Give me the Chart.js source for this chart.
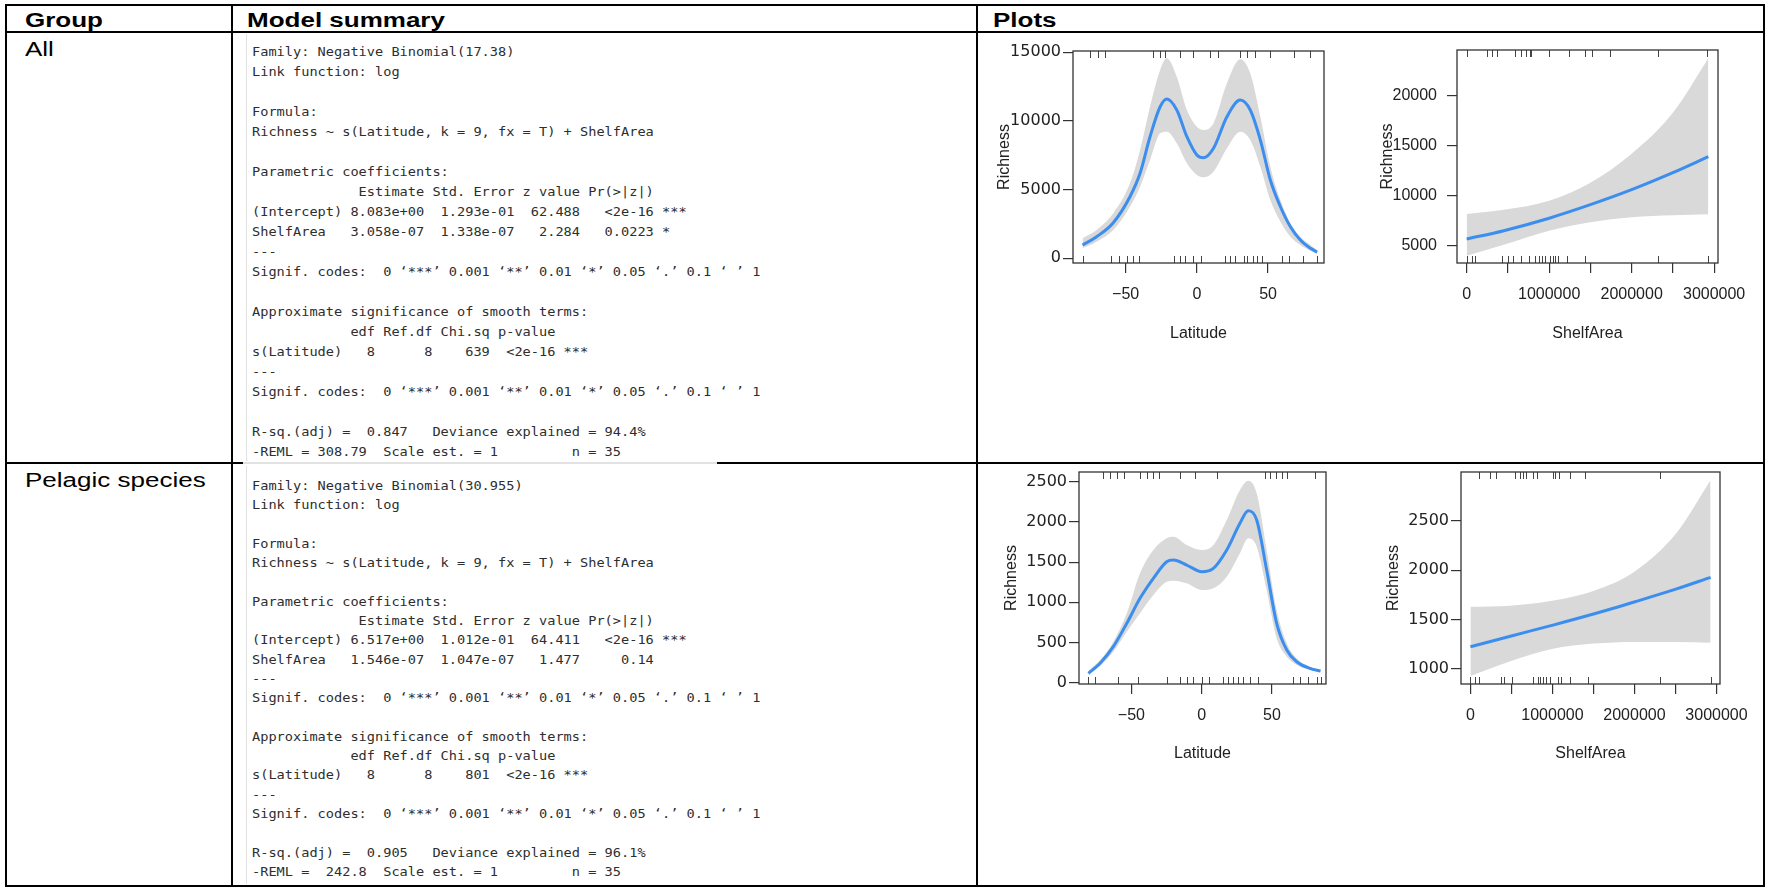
<!DOCTYPE html>
<html><head><meta charset="utf-8">
<script src="https://cdn.jsdelivr.net/npm/chart.js@4"></script>
<style>
html,body{margin:0;padding:0;background:#fff;}
#page{position:relative;width:1766px;height:888px;overflow:hidden;background:#fff;}
.ln{position:absolute;background:#000;}
.lg{position:absolute;background:#e2e2e2;}
.hd{position:absolute;font:bold 20px "Liberation Sans",Arial,sans-serif;line-height:20px;white-space:nowrap;transform-origin:0 0;transform:scaleX(1.3);color:#000;}
.rl{position:absolute;font:20px "Liberation Sans",Arial,sans-serif;line-height:20px;white-space:nowrap;transform-origin:0 0;transform:scaleX(1.3);color:#000;}
pre.sum{position:absolute;margin:0;font-family:"DejaVu Sans Mono",monospace;font-size:12px;color:#2e2e2e;transform-origin:0 0;transform:scaleX(1.135);}
canvas{position:absolute;}
</style></head>
<body><div id="page">
<div class="ln" style="left:5px;top:4px;width:1760px;height:2px"></div>
<div class="ln" style="left:5px;top:31px;width:1760px;height:2px"></div>
<div class="ln" style="left:5px;top:462px;width:1760px;height:2px"></div>
<div class="ln" style="left:5px;top:885px;width:1760px;height:2px"></div>
<div class="ln" style="left:5px;top:4px;width:2px;height:883px"></div>
<div class="ln" style="left:231px;top:4px;width:2px;height:883px"></div>
<div class="ln" style="left:976px;top:4px;width:2px;height:883px"></div>
<div class="ln" style="left:1763px;top:4px;width:2px;height:883px"></div>
<div class="lg" style="left:246px;top:34px;width:1px;height:427px"></div>
<div class="lg" style="left:246px;top:466px;width:1px;height:418px"></div>
<div class="lg" style="left:243px;top:462px;width:474px;height:2px"></div>
<div class="hd" style="left:25px;top:10px">Group</div>
<div class="hd" style="left:247px;top:10px">Model summary</div>
<div class="hd" style="left:993px;top:10px">Plots</div>
<div class="rl" style="left:25px;top:39px">All</div>
<div class="rl" style="left:25px;top:470px">Pelagic species</div>
<pre class="sum" id="sum1" style="left:252px;top:42px;line-height:20px"></pre>
<pre class="sum" id="sum2" style="left:252px;top:477px;line-height:19.3px"></pre>
</div>
<script>
// ---------- summary texts ----------
const summaryAll = [
"Family: Negative Binomial(17.38)",
"Link function: log",
"",
"Formula:",
"Richness ~ s(Latitude, k = 9, fx = T) + ShelfArea",
"",
"Parametric coefficients:",
"             Estimate Std. Error z value Pr(>|z|)",
"(Intercept) 8.083e+00  1.293e-01  62.488   <2e-16 ***",
"ShelfArea   3.058e-07  1.338e-07   2.284   0.0223 *",
"---",
"Signif. codes:  0 \u2018***\u2019 0.001 \u2018**\u2019 0.01 \u2018*\u2019 0.05 \u2018.\u2019 0.1 \u2018 \u2019 1",
"",
"Approximate significance of smooth terms:",
"            edf Ref.df Chi.sq p-value",
"s(Latitude)   8      8    639  <2e-16 ***",
"---",
"Signif. codes:  0 \u2018***\u2019 0.001 \u2018**\u2019 0.01 \u2018*\u2019 0.05 \u2018.\u2019 0.1 \u2018 \u2019 1",
"",
"R-sq.(adj) =  0.847   Deviance explained = 94.4%",
"-REML = 308.79  Scale est. = 1         n = 35"];
const summaryPelagic = [
"Family: Negative Binomial(30.955)",
"Link function: log",
"",
"Formula:",
"Richness ~ s(Latitude, k = 9, fx = T) + ShelfArea",
"",
"Parametric coefficients:",
"             Estimate Std. Error z value Pr(>|z|)",
"(Intercept) 6.517e+00  1.012e-01  64.411   <2e-16 ***",
"ShelfArea   1.546e-07  1.047e-07   1.477     0.14",
"---",
"Signif. codes:  0 \u2018***\u2019 0.001 \u2018**\u2019 0.01 \u2018*\u2019 0.05 \u2018.\u2019 0.1 \u2018 \u2019 1",
"",
"Approximate significance of smooth terms:",
"            edf Ref.df Chi.sq p-value",
"s(Latitude)   8      8    801  <2e-16 ***",
"---",
"Signif. codes:  0 \u2018***\u2019 0.001 \u2018**\u2019 0.01 \u2018*\u2019 0.05 \u2018.\u2019 0.1 \u2018 \u2019 1",
"",
"R-sq.(adj) =  0.905   Deviance explained = 96.1%",
"-REML =  242.8  Scale est. = 1         n = 35"];
document.getElementById('sum1').textContent = summaryAll.join('\n');
document.getElementById('sum2').textContent = summaryPelagic.join('\n');

// ---------- chart data ----------
// All species: Latitude smooth
const lat1   = [-80.3,-70.4,-58.7,-47,-39.9,-32.9,-25.8,-21.1,-14.1,-7,0,4.7,11.7,21.1,30.5,37.5,44.6,51.6,58.7,65.7,72.7,79.8,84.5];
const fit1   = [968,1573,2592,4485,6188,8852,11036,11597,10796,8852,7520,7324,8008,10308,11524,10796,8611,5700,3756,2300,1332,728,450];
const upper1 = [1456,2060,3276,5460,7884,11036,13708,14560,13220,10796,9580,9340,9828,12740,14487,13468,10308,6668,4244,2548,1573,968,580];
const lower1 = [728,1208,2060,3756,5212,7156,9100,9216,8372,6916,6064,5897,6304,8008,9216,8611,6668,4244,2665,1573,968,553,330];
const rugTop1 = [-75.1,-69.3,-64.6,-30.5,-25.8,-22.3,-11.8,-2.4,9.4,14.5,30,35.2,41.1,51.6,68,79.8];
const rugBot1 = [-80.3,-60.4,-54.5,-49.3,-44.6,-40.4,-16,-11.8,-8.2,-2.4,2.8,19.9,23.5,27,32.9,35.2,39.4,42.2,45.8,59.9,64.5,74.6,84.5];
const xTicks1 = [-50,0,50];
const yTicks1 = [0,5000,10000,15000];

// All species: ShelfArea effect
const sa2    = [0,450000,1000000,1500000,2000000,2500000,2930000];
const fit2   = [5670,6500,7750,9100,10600,12300,13900];
const upper2 = [8170,8600,9500,11300,14200,18300,23740];
const lower2 = [4000,5100,6500,7350,7850,8050,8150];
const rugTop2 = [8000,242000,311000,371000,592000,661000,725000,762000,782000,1004000,1242000,1439000,1520000,1733000,2318000,2911000];
const rugBot2 = [8000,69000,101000,432000,500000,565000,653000,754000,834000,875000,915000,955000,1016000,1048000,1076000,1104000,1217000,1439000,2314000,2923000];
const xTicksSA = [0,500000,1000000,1500000,2000000,2500000,3000000];
const yTicks2 = [5000,10000,15000,20000];

// Pelagic species: Latitude smooth
const lat3   = [-80.6,-72.3,-62.9,-53.3,-43.9,-34.4,-24.9,-20.2,-10.7,0,8.3,17.8,27.2,33.1,39.1,46.2,53.3,60.5,67.6,77,84.5];
const fit3   = [117,241,448,739,1050,1299,1505,1526,1464,1381,1423,1651,1983,2140,2024,1402,739,407,261,179,145];
const upper3 = [149,282,510,863,1361,1651,1796,1816,1713,1651,1713,2024,2397,2513,2356,1651,904,490,303,199,156];
const lower3 = [96,208,386,634,863,1091,1256,1269,1236,1153,1174,1319,1610,1796,1692,1153,552,323,220,158,134];
const rugTop3 = [-70,-65.2,-60.5,-55,-43.9,-39.1,-34.4,-30.1,-15.4,-4.8,10.7,45,48.6,52.8,56.9,60.5,80.6];
const rugBot3 = [-80.6,-75.9,-59.7,-45.1,-24.9,-15.4,-10.7,-6,0,5.2,15.4,18.9,22.5,26,29.6,34.4,40.3,65.2,69.9,75.8,81.8,84.5];
const yTicks3 = [0,500,1000,1500,2000,2500];

// Pelagic species: ShelfArea effect
const sa4    = [0,487000,993000,1500000,2007000,2514000,2928000];
const fit4   = [1223,1330,1440,1555,1680,1810,1927];
const upper4 = [1629,1640,1690,1790,1990,2380,2913];
const lower4 = [926,1075,1200,1255,1272,1272,1264];
const rugTop4 = [101000,235000,316000,547000,600000,641000,681000,758000,811000,1006000,1034000,1075000,1217000,1399000,2311000];
const rugBot4 = [0,61000,101000,377000,405000,507000,758000,823000,852000,884000,921000,973000,1062000,1103000,1208000,1439000,2311000,2928000];
const yTicks4 = [1000,1500,2000,2500];

// ---------- drawing ----------
const BLUE = '#3b8eed', BAND = '#d9d9d9', INK = '#222';
const pts = (xs, ys) => xs.map((x, i) => ({x: x, y: ys[i]}));
const page = document.getElementById('page');

const framePlugin = {
  id: 'frame',
  afterDatasetsDraw(chart, args, opts) {
    const ctx = chart.ctx, ca = chart.chartArea, xs = chart.scales.x;
    ctx.save();
    ctx.strokeStyle = '#444'; ctx.lineWidth = 1;
    ctx.beginPath();
    (opts.top || []).forEach(v => { const px = Math.round(xs.getPixelForValue(v)) + 0.5; ctx.moveTo(px, ca.top); ctx.lineTo(px, ca.top + 7); });
    (opts.bottom || []).forEach(v => { const px = Math.round(xs.getPixelForValue(v)) + 0.5; ctx.moveTo(px, ca.bottom - 7); ctx.lineTo(px, ca.bottom); });
    ctx.stroke();
    ctx.strokeStyle = '#333'; ctx.lineWidth = 1.3;
    ctx.strokeRect(ca.left, ca.top, ca.right - ca.left, ca.bottom - ca.top);
    ctx.restore();
  }
};

function numLabel(v) { return v < 0 ? '\u2212' + Math.abs(v) : String(v); }

function makeChart(c) {
  const padT = 14, padR = 40;
  const W = c.box.r - c.box.l, H = c.box.b - c.box.t;
  const cw = c.wy + W + padR, ch = padT + H + c.hx;
  const cv = document.createElement('canvas');
  cv.width = cw; cv.height = ch;
  cv.style.left = (c.box.l - c.wy) + 'px';
  cv.style.top = (c.box.t - padT) + 'px';
  cv.style.width = cw + 'px'; cv.style.height = ch + 'px';
  page.appendChild(cv);
  const gridOpts = {drawOnChartArea: false, drawTicks: true, tickLength: 10, color: '#333', lineWidth: 1.2};
  new Chart(cv, {
    type: 'line',
    data: {datasets: [
      {data: pts(c.x, c.fit), borderColor: BLUE, borderWidth: 3, pointRadius: 0, fill: false, cubicInterpolationMode: 'monotone'},
      {data: pts(c.x, c.upper), borderWidth: 0, borderColor: 'rgba(0,0,0,0)', pointRadius: 0, fill: '+1', backgroundColor: BAND, cubicInterpolationMode: 'monotone'},
      {data: pts(c.x, c.lower), borderWidth: 0, borderColor: 'rgba(0,0,0,0)', pointRadius: 0, fill: false, cubicInterpolationMode: 'monotone'}
    ]},
    options: {
      responsive: false, animation: false, devicePixelRatio: 1,
      layout: {padding: {top: padT, right: padR, left: 0, bottom: 0}},
      plugins: {legend: {display: false}, tooltip: {enabled: false}, frame: {top: c.rugTop, bottom: c.rugBot}},
      scales: {
        x: {
          type: 'linear', min: c.xr[0], max: c.xr[1],
          afterBuildTicks: s => { s.ticks = c.xt.map(v => ({value: v})); },
          afterFit: s => { s.height = c.hx; s.paddingLeft = 0; s.paddingRight = 0; },
          grid: gridOpts, border: {display: false},
          ticks: {autoSkip: false, maxRotation: 0, minRotation: 0, padding: 12, color: INK,
                  font: {family: '"Liberation Sans", Arial, sans-serif', size: 16},
                  callback: c.xlab},
          title: {display: true, text: c.xtitle, color: INK, padding: 0,
                  font: {family: '"Liberation Sans", Arial, sans-serif', size: 16}}
        },
        y: {
          type: 'linear', min: c.yr[0], max: c.yr[1],
          afterBuildTicks: s => { s.ticks = c.yt.map(v => ({value: v})); },
          afterFit: s => { s.width = c.wy; s.paddingTop = 0; s.paddingBottom = 0; },
          grid: gridOpts, border: {display: false},
          ticks: {autoSkip: false, padding: c.ypad, color: INK,
                  font: {family: c.yfont, size: 16},
                  callback: v => numLabel(v)},
          title: {display: true, text: 'Richness', color: INK, padding: 0,
                  font: {family: '"Liberation Sans", Arial, sans-serif', size: 16}}
        }
      }
    },
    plugins: [framePlugin]
  });
}

const latLab = v => numLabel(v);
const saLab = v => (v % 1000000 === 0 ? String(v) : '');
const WIDE = '"DejaVu Sans", sans-serif', NARROW = '"Liberation Sans", Arial, sans-serif';

makeChart({box: {l: 1073, t: 51, r: 1324, b: 263}, wy: 78, hx: 80, xr: [-87, 89.3], yr: [-342, 15095],
  x: lat1, fit: fit1, upper: upper1, lower: lower1, rugTop: rugTop1, rugBot: rugBot1,
  xt: xTicks1, yt: yTicks1, xlab: latLab, xtitle: 'Latitude', yfont: WIDE, ypad: 2});
makeChart({box: {l: 1457, t: 50, r: 1718, b: 263}, wy: 79, hx: 80, xr: [-117000, 3047000], yr: [3270, 24570],
  x: sa2, fit: fit2, upper: upper2, lower: lower2, rugTop: rugTop2, rugBot: rugBot2,
  xt: xTicksSA, yt: yTicks2, xlab: saLab, xtitle: 'ShelfArea', yfont: NARROW, ypad: 10});
makeChart({box: {l: 1079, t: 472, r: 1326, b: 684}, wy: 77, hx: 79, xr: [-87.3, 88.4], yr: [-16, 2621],
  x: lat3, fit: fit3, upper: upper3, lower: lower3, rugTop: rugTop3, rugBot: rugBot3,
  xt: xTicks1, yt: yTicks3, xlab: latLab, xtitle: 'Latitude', yfont: WIDE, ypad: 2});
makeChart({box: {l: 1461, t: 472, r: 1720, b: 684}, wy: 77, hx: 79, xr: [-115000, 3043000], yr: [845, 2997],
  x: sa4, fit: fit4, upper: upper4, lower: lower4, rugTop: rugTop4, rugBot: rugBot4,
  xt: xTicksSA, yt: yTicks4, xlab: saLab, xtitle: 'ShelfArea', yfont: WIDE, ypad: 2});
</script>
</body></html>
